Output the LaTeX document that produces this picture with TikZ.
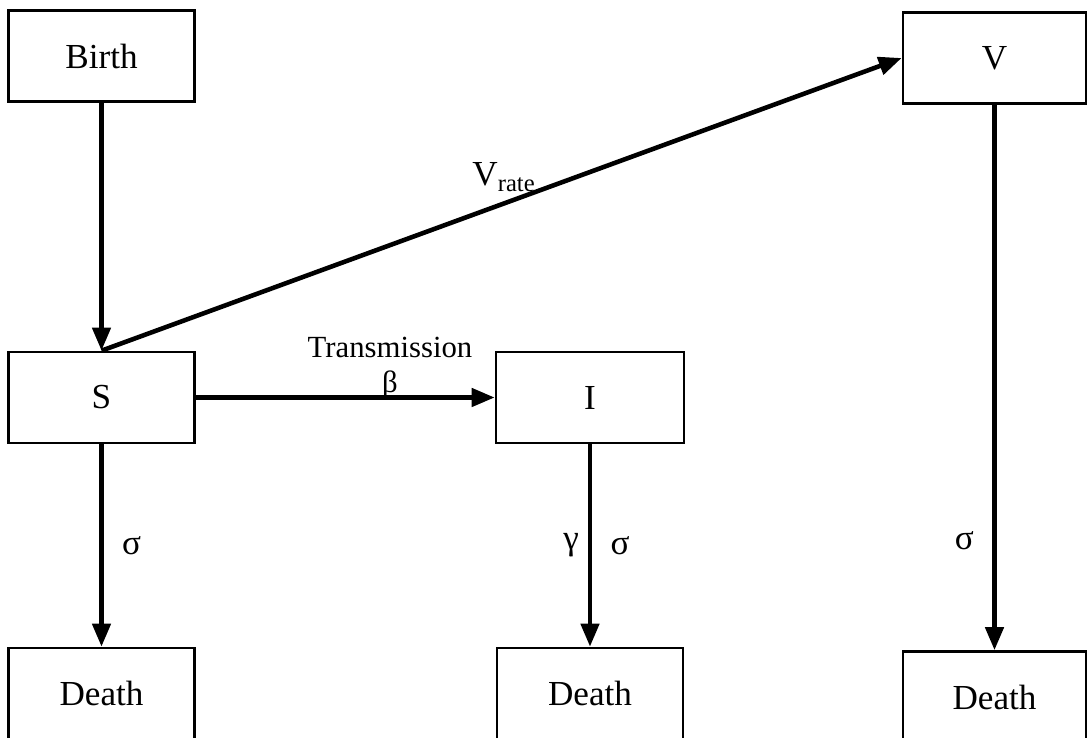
\documentclass[tikz,border=0pt]{standalone}
\usepackage{fontspec}
\setmainfont{Liberation Serif}
\usepackage{tikz}
\usetikzlibrary{arrows.meta, positioning}

\begin{document}
\begin{tikzpicture}[
  box/.style={draw, line width=1.5pt, minimum width=3.72cm, minimum height=1.82cm, inner sep=0pt, font=\fontsize{20}{24}\selectfont},
  flow/.style={line width=2.6pt, -{Triangle[length=0.46cm, width=0.36cm]}},
  lbl/.style={font=\fontsize{20}{24}\selectfont}
]
  \useasboundingbox (0,0) rectangle (21.78,14.74);

  % Top row
  \node[box] (BIRTH) at (2.03, 13.62) {Birth};
  \node[box, minimum width=3.66cm] (VAC) at (19.89, 13.58) {V};

  % Middle row
  \node[box] (SUS) at (2.03, 6.79) {S};
  \node[box, minimum width=3.76cm] (INF) at (11.80, 6.79) {I};

  % Bottom row
  \node[box] (DEADS) at (2.03, 0.87) {Death};
  \node[box] (DEADI) at (11.80, 0.87) {Death};
  \node[box, minimum width=3.66cm] (DEADV) at (19.89, 0.80) {Death};

  % Flows
  \draw[flow] (BIRTH.south) -- (SUS.north);
  \draw[flow] (SUS.north) -- (VAC.west);
  \draw[flow] (SUS.east) -- (INF.west);
  \draw[flow] (SUS.south) -- node[lbl, right=0.25cm] (SIGS) {σ} (DEADS.north);
  \draw[flow] (INF.south) -- node[lbl, left=0.06cm] (GAMI) {γ} node[lbl, right=0.25cm] (SIGI) {σ} (DEADI.north);
  \draw[flow] (VAC.south) -- node[lbl, pos=0.8, left=0.25cm] (SIGV) {σ} (DEADV.north);

  % Rate labels
  \node[lbl] (VRATE) at (10.08, 11.20) {V\textsubscript{rate}};
  \node[font=\fontsize{17.5}{20}\selectfont, align=center] (TRANS) at (7.80, 7.38) {Transmission\\β};
\end{tikzpicture}
\end{document}
